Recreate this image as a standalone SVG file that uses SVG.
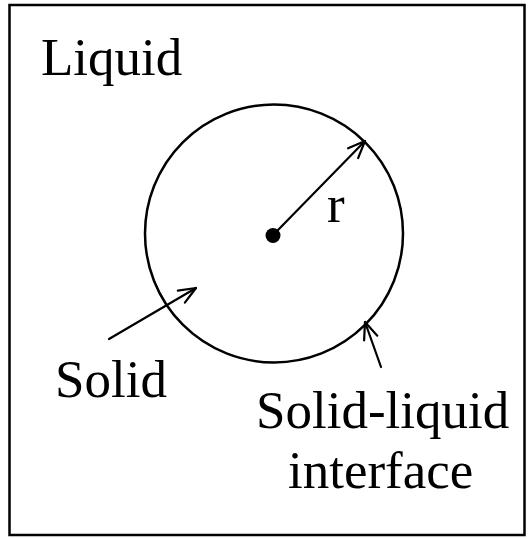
<svg xmlns="http://www.w3.org/2000/svg" width="528" height="539" viewBox="0 0 528 539">
  <style>
    .lbl { font-family: "Liberation Serif", "Times New Roman", serif; font-size: 53px; fill: #000; }
    .ln { stroke: #000; stroke-width: 2.2; fill: none; stroke-linecap: round; }
  </style>
  <defs>
    <marker id="open" viewBox="0 0 20 20" refX="19" refY="10" markerWidth="20" markerHeight="20" markerUnits="userSpaceOnUse" orient="auto">
      <path d="M2,3 L19,10 L2,17" fill="none" stroke="#000" stroke-width="2.2" stroke-linecap="round" stroke-linejoin="round"/>
    </marker>
  </defs>
  <rect x="9.5" y="5" width="515" height="530" fill="#fff" stroke="#000" stroke-width="2.5"/>
  <g id="liquid">
    <text class="lbl" x="41" y="75">Liquid</text>
  </g>
  <g id="solid-circle">
    <circle cx="274" cy="233.5" r="129" fill="none" stroke="#000" stroke-width="2.5"/>
    <circle cx="273" cy="235.5" r="7.5" fill="#000"/>
  </g>
  <g id="radius-label">
    <text class="lbl" x="327" y="222">r</text>
  </g>
  <g id="solid-label">
    <text class="lbl" x="55" y="397">Solid</text>
  </g>
  <g id="interface-label">
    <text class="lbl" x="256" y="428">Solid-liquid</text>
    <text class="lbl" x="288" y="488">interface</text>
  </g>
  <g id="connectors">
    <line class="ln" x1="278" y1="230" x2="365" y2="141" marker-end="url(#open)"/>
    <line class="ln" x1="109" y1="339" x2="196" y2="288" marker-end="url(#open)"/>
    <line class="ln" x1="381" y1="367" x2="365" y2="322" marker-end="url(#open)"/>
  </g>
</svg>
